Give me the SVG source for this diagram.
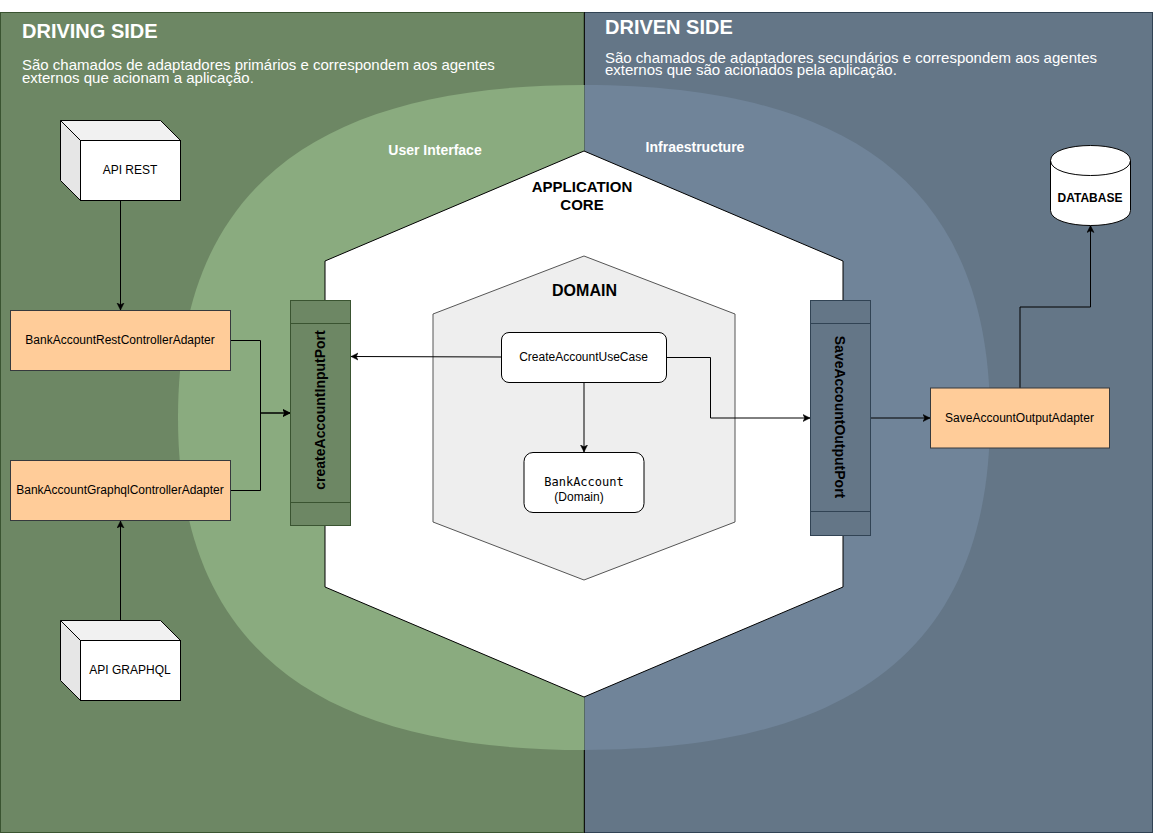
<svg xmlns="http://www.w3.org/2000/svg" width="1153" height="833" viewBox="0 0 1153 833">
<style>
text{font-family:"Liberation Sans",Arial,sans-serif;fill:#000}
.c{text-anchor:middle}
.s12{font-size:12px}
.h{font-size:20px;font-weight:bold;fill:#fff}
.d{font-size:15px;fill:#fff}
.w{font-size:14px;font-weight:bold;fill:#fff}
.b15{font-size:15px;font-weight:bold}
.p14{font-size:14px;font-weight:bold}
.edge{fill:none;stroke:#000;stroke-width:1}
.ad{fill:#ffcc99;stroke:#36393d}
.box{fill:#fff;stroke:#000}
.top{fill:#f1f1f1;stroke:#000}
.side{fill:#e6e6e6;stroke:#000}
.n{fill:none;stroke:#000}
</style>
<defs>
<marker id="a" markerUnits="userSpaceOnUse" markerWidth="9" markerHeight="9" refX="7" refY="4" orient="auto"><path d="M0 0.5L7 4L0 7.500L1.750 4Z" fill="#000" stroke="#000" stroke-width=".5"/></marker>
</defs>
<g id="driving-side"><rect x="0.5" y="12.5" width="583.5" height="820" fill="#6d8764" stroke="#3a5431"/></g>
<g id="driven-side"><rect x="584.5" y="12.5" width="568" height="820" fill="#647687" stroke="#314354"/></g>
<path d="M584.5 12V833" stroke="#111" fill="none"/>
<g id="layers">
<path id="user-interface-layer" d="M584 85C320 85 178 185 178 417.500C178 650 320 750 584 750Z" fill="#8aab7f"/>
<path id="infrastructure-layer" d="M584 85C848 85 990 185 990 417.500C990 650 848 750 584 750Z" fill="#708499"/>
<path d="M584.5 85V750" stroke="#566b64" fill="none"/>
</g>
<g id="application-core"><polygon points="584,151 843,261 843,587 584,697 325,587 325,261" fill="#fff" stroke="#000"/>
<text class="b15 c" x="582" y="192">APPLICATION</text><text class="b15 c" x="582" y="210">CORE</text></g>
<g id="domain"><polygon points="584,256 735,314 735,522 584,580 433,522 433,314" fill="#eeeeee" stroke="#555"/>
<text class="c" x="584.500" y="296" font-size="16" font-weight="bold">DOMAIN</text></g>
<g id="driving-text"><text class="h" x="22" y="38">DRIVING SIDE</text>
<text class="d" x="22" y="70">São chamados de adaptadores primários e correspondem aos agentes</text>
<text class="d" x="22" y="83">externos que acionam a aplicação.</text></g>
<g id="driven-text"><text class="h" x="605" y="34">DRIVEN SIDE</text>
<text class="d" x="605" y="63">São chamados de adaptadores secundários e correspondem aos agentes</text>
<text class="d" x="605" y="75">externos que são acionados pela aplicação.</text></g>
<g id="labels"><text class="w c" x="435" y="155">User Interface</text><text class="w c" x="695" y="152">Infraestructure</text></g>
<g id="connectors">
<path class="edge" d="M120.500 201V310" marker-end="url(#a)"/>
<path class="edge" d="M120.500 620V521" marker-end="url(#a)"/>
<path class="edge" d="M231 340.500H260.500V413H290" marker-end="url(#a)"/>
<path class="edge" d="M231 490.500H260.500V413H290" marker-end="url(#a)"/>
<path class="edge" d="M501 357L351 356.500" marker-end="url(#a)"/>
<path class="edge" d="M584 382V452" marker-end="url(#a)"/>
<path class="edge" d="M667 357.500H710.500V418H810" marker-end="url(#a)"/>
<path class="edge" d="M871 418H930" marker-end="url(#a)"/>
<path class="edge" d="M1020 388V307H1090.500V225.500" marker-end="url(#a)"/>
</g>
<g id="api-rest"><polygon class="top" points="60.500,120.500 160.500,120.500 180.500,140.500 80.500,140.500"/><polygon class="side" points="60.500,120.500 80.500,140.500 80.500,200.500 60.500,180.500"/><rect class="box" x="80.500" y="140.500" width="100" height="60"/><text class="s12 c" x="130" y="174">API REST</text></g>
<g id="api-graphql"><polygon class="top" points="60.500,620.500 160.500,620.500 180.500,640.500 80.500,640.500"/><polygon class="side" points="60.500,620.500 80.500,640.500 80.500,700.500 60.500,680.500"/><rect class="box" x="80.500" y="640.500" width="100" height="60"/><text class="s12 c" x="130" y="674">API GRAPHQL</text></g>
<g id="rest-adapter"><rect class="ad" x="10.500" y="310.500" width="220" height="60"/><text class="s12 c" x="120" y="344">BankAccountRestControllerAdapter</text></g>
<g id="graphql-adapter"><rect class="ad" x="10.500" y="460.500" width="220" height="60"/><text class="s12 c" x="120" y="494">BankAccountGraphqlControllerAdapter</text></g>
<g id="input-port"><rect x="290.500" y="300.500" width="60" height="225" fill="#6d8764" stroke="#3a5431"/><path d="M290.500 323.500H350.500M290.500 502.500H350.500" stroke="#3a5431" fill="none"/><text class="p14 c" transform="translate(325 410) rotate(-90)">createAccountInputPort</text></g>
<g id="output-port"><rect x="810.500" y="300.500" width="60" height="235" fill="#647687" stroke="#314354"/><path d="M810.500 323.500H870.500M810.500 511.500H870.500" stroke="#314354" fill="none"/><text class="p14 c" transform="translate(835 417) rotate(90)">SaveAccountOutputPort</text></g>
<g id="use-case"><rect class="box" x="501.500" y="332.500" width="165" height="50" rx="7.500"/><text class="s12 c" x="583.500" y="361">CreateAccountUseCase</text></g>
<g id="bank-account"><rect class="box" x="524" y="452.500" width="120" height="60" rx="9"/><text class="c" x="584" y="486" font-size="12" style="font-family:'DejaVu Sans Mono',monospace">BankAccount</text><text class="s12 c" x="579" y="501">(Domain)</text></g>
<g id="save-adapter"><rect class="ad" x="930.500" y="388" width="179" height="60"/><text class="s12 c" x="1019.500" y="422">SaveAccountOutputAdapter</text></g>
<g id="database"><path class="box" d="M1050.500 160.500C1050.500 140.500 1130.500 140.500 1130.500 160.500V210.500C1130.500 230.500 1050.500 230.500 1050.500 210.500Z"/><path class="n" d="M1050.500 160.500C1050.500 180.500 1130.500 180.500 1130.500 160.500"/><text class="c" x="1090" y="202" font-size="12" font-weight="bold">DATABASE</text></g>
</svg>
